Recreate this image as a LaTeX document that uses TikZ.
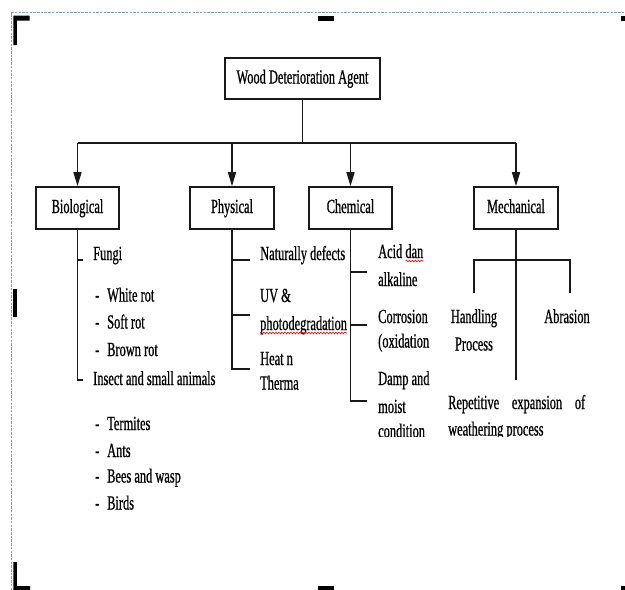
\documentclass[tikz,border=0pt]{standalone}
\usepackage{fontspec}
\setmainfont[FakeStretch=0.62,FakeBold=0.7]{Liberation Serif}
\usetikzlibrary{arrows.meta,decorations.pathmorphing}
\definecolor{bordercol}{RGB}{110,160,230}
\definecolor{inkcol}{RGB}{25,25,25}
\newcommand{\diafont}{\fontsize{20pt}{24pt}\selectfont}
\tikzset{
  box/.style={draw=inkcol, line width=1.6pt, inner sep=0pt, minimum height=42pt,
    text height=13.5pt, text depth=3.5pt, align=center, font=\diafont},
  lbl/.style={anchor=base west, inner sep=0pt, font=\diafont},
  clbl/.style={anchor=base, inner sep=0pt, font=\diafont},
  conn/.style={draw=inkcol, line width=1.5pt},
  arr/.style={conn, -{Triangle[length=14pt,width=8pt]}},
  squiggle/.style={draw=red, line width=0.6pt, decorate,
    decoration={snake, amplitude=0.9pt, segment length=3pt}},
  handle/.style={fill=black}
}
\begin{document}
\begin{tikzpicture}[x=1pt,y=-1pt]
\useasboundingbox (0,0) rectangle (625,590);
% selection frame
\draw[bordercol, line width=0.8pt, dash pattern=on 2.5pt off 1.2pt] (11.5,590) -- (11.5,12.5) -- (625,12.5);
\fill[handle] (13.3,15.7) -- (29.5,15.7) -- (29.5,20.5) -- (16.8,20.5) -- (16.8,45) -- (13.3,45) -- cycle;
\fill[handle] (318,15.7) rectangle (334,20.5);
\fill[handle] (621,15.7) rectangle (625,20.5);
\fill[handle] (13.3,289) rectangle (16.8,317);
\fill[handle] (13.3,562) -- (16.8,562) -- (16.8,586) -- (30,586) -- (30,590) -- (13.3,590) -- cycle;
\fill[handle] (318,586) rectangle (334,590);
\fill[handle] (621,586) rectangle (625,590);

% boxes
\node[box, minimum width=155pt, minimum height=41pt] (top) at (302.5,78.5) {Wood Deterioration Agent};
\node[box, minimum width=83pt] (bio) at (77.5,208) {Biological};
\node[box, minimum width=84pt] (phy) at (232,208) {Physical};
\node[box, minimum width=83pt] (che) at (350.5,208) {Chemical};
\node[box, minimum width=84pt] (mec) at (516,208) {Mechanical};

% main connectors
\coordinate (hub) at (302.5,143);
\draw[conn] (top.south) -- (hub);
\draw[conn] (bio.north |- hub) -- (mec.north |- hub);
\draw[arr] (bio.north |- hub) -- (bio.north);
\draw[arr] (phy.north |- hub) -- (phy.north);
\draw[arr] (che.north |- hub) -- (che.north);
\draw[arr] (mec.north |- hub) -- (mec.north);

% Biological branch
\coordinate (b1) at (83,260);
\coordinate (b2) at (83,380);
\draw[conn] (bio.south) -- (bio.south |- b2) -- (b2);
\draw[conn] (bio.south |- b1) -- (b1);
\node[lbl] (fungi) at (93,260) {Fungi};
\node[lbl] (dw) at (95,301.5) {-};
\node[lbl] (white) at (107,301.5) {White rot};
\node[lbl] (ds) at (95,328.5) {-};
\node[lbl] (soft) at (107,328.5) {Soft rot};
\node[lbl] (db) at (95,356) {-};
\node[lbl] (brown) at (107,356) {Brown rot};
\node[lbl] (insect) at (93,385) {Insect and small animals};
\node[lbl] (dt) at (95,430) {-};
\node[lbl] (termites) at (107,430) {Termites};
\node[lbl] (da) at (95,457) {-};
\node[lbl] (ants) at (107,457) {Ants};
\node[lbl] (dbe) at (95,482.5) {-};
\node[lbl] (bees) at (107,482.5) {Bees and wasp};
\node[lbl] (dbi) at (95,509.5) {-};
\node[lbl] (birds) at (107,509.5) {Birds};

% Physical branch
\coordinate (p1) at (250,260);
\coordinate (p2) at (250,315);
\coordinate (p3) at (250,369);
\draw[conn] (phy.south) -- (phy.south |- p3) -- (p3);
\draw[conn] (phy.south |- p1) -- (p1);
\draw[conn] (phy.south |- p2) -- (p2);
\node[lbl] (nat) at (260,260) {Naturally defects};
\node[lbl] (uv) at (260,302) {UV \&};
\node[lbl] (photo) at (260,330) {photodegradation};
\node[lbl] (heat) at (260,365) {Heat n};
\node[lbl] (therma) at (260,389.5) {Therma};
\draw[squiggle] ([yshift=-3pt]photo.base west) -- ([yshift=-3pt]photo.base east);

% Chemical branch
\coordinate (c1) at (367,272);
\coordinate (c2) at (367,325);
\coordinate (c3) at (367,401);
\draw[conn] (che.south) -- (che.south |- c3) -- (c3);
\draw[conn] (che.south |- c1) -- (c1);
\draw[conn] (che.south |- c2) -- (c2);
\node[lbl] (acid) at (378,258) {Acid dan};
\node[lbl] (alk) at (378,286) {alkaline};
\node[lbl] (corr) at (378,323) {Corrosion};
\node[lbl] (oxid) at (378,347.5) {(oxidation};
\node[lbl] (damp) at (378,385) {Damp and};
\node[lbl] (moist) at (378,413) {moist};
\draw[squiggle] ([xshift=-18pt,yshift=-3pt]acid.base east) -- ([yshift=-3pt]acid.base east);

% Mechanical branch
\coordinate (m1) at (474,260);
\coordinate (m2) at (570,260);
\coordinate (m1e) at (474,293);
\coordinate (m2e) at (570,293);
\coordinate (m3) at (516,380);
\draw[conn] (mec.south) -- (m3);
\draw[conn] (m1e) -- (m1) -- (m2) -- (m2e);
\node[clbl] (hand) at (474,323) {Handling};
\node[clbl] (proc) at (474,350.5) {Process};
\node[clbl] (abr) at (567,323) {Abrasion};
\node[lbl] (rep) at (448,409) {\makebox[137pt][s]{Repetitive expansion of}};

\begin{scope}
\clip (355,0) rectangle (625,436);
\node[lbl] (cond) at (378,437.5) {condition};
\node[lbl] (weath) at (448,435.5) {weathering process};
\end{scope}
\end{tikzpicture}
\end{document}
